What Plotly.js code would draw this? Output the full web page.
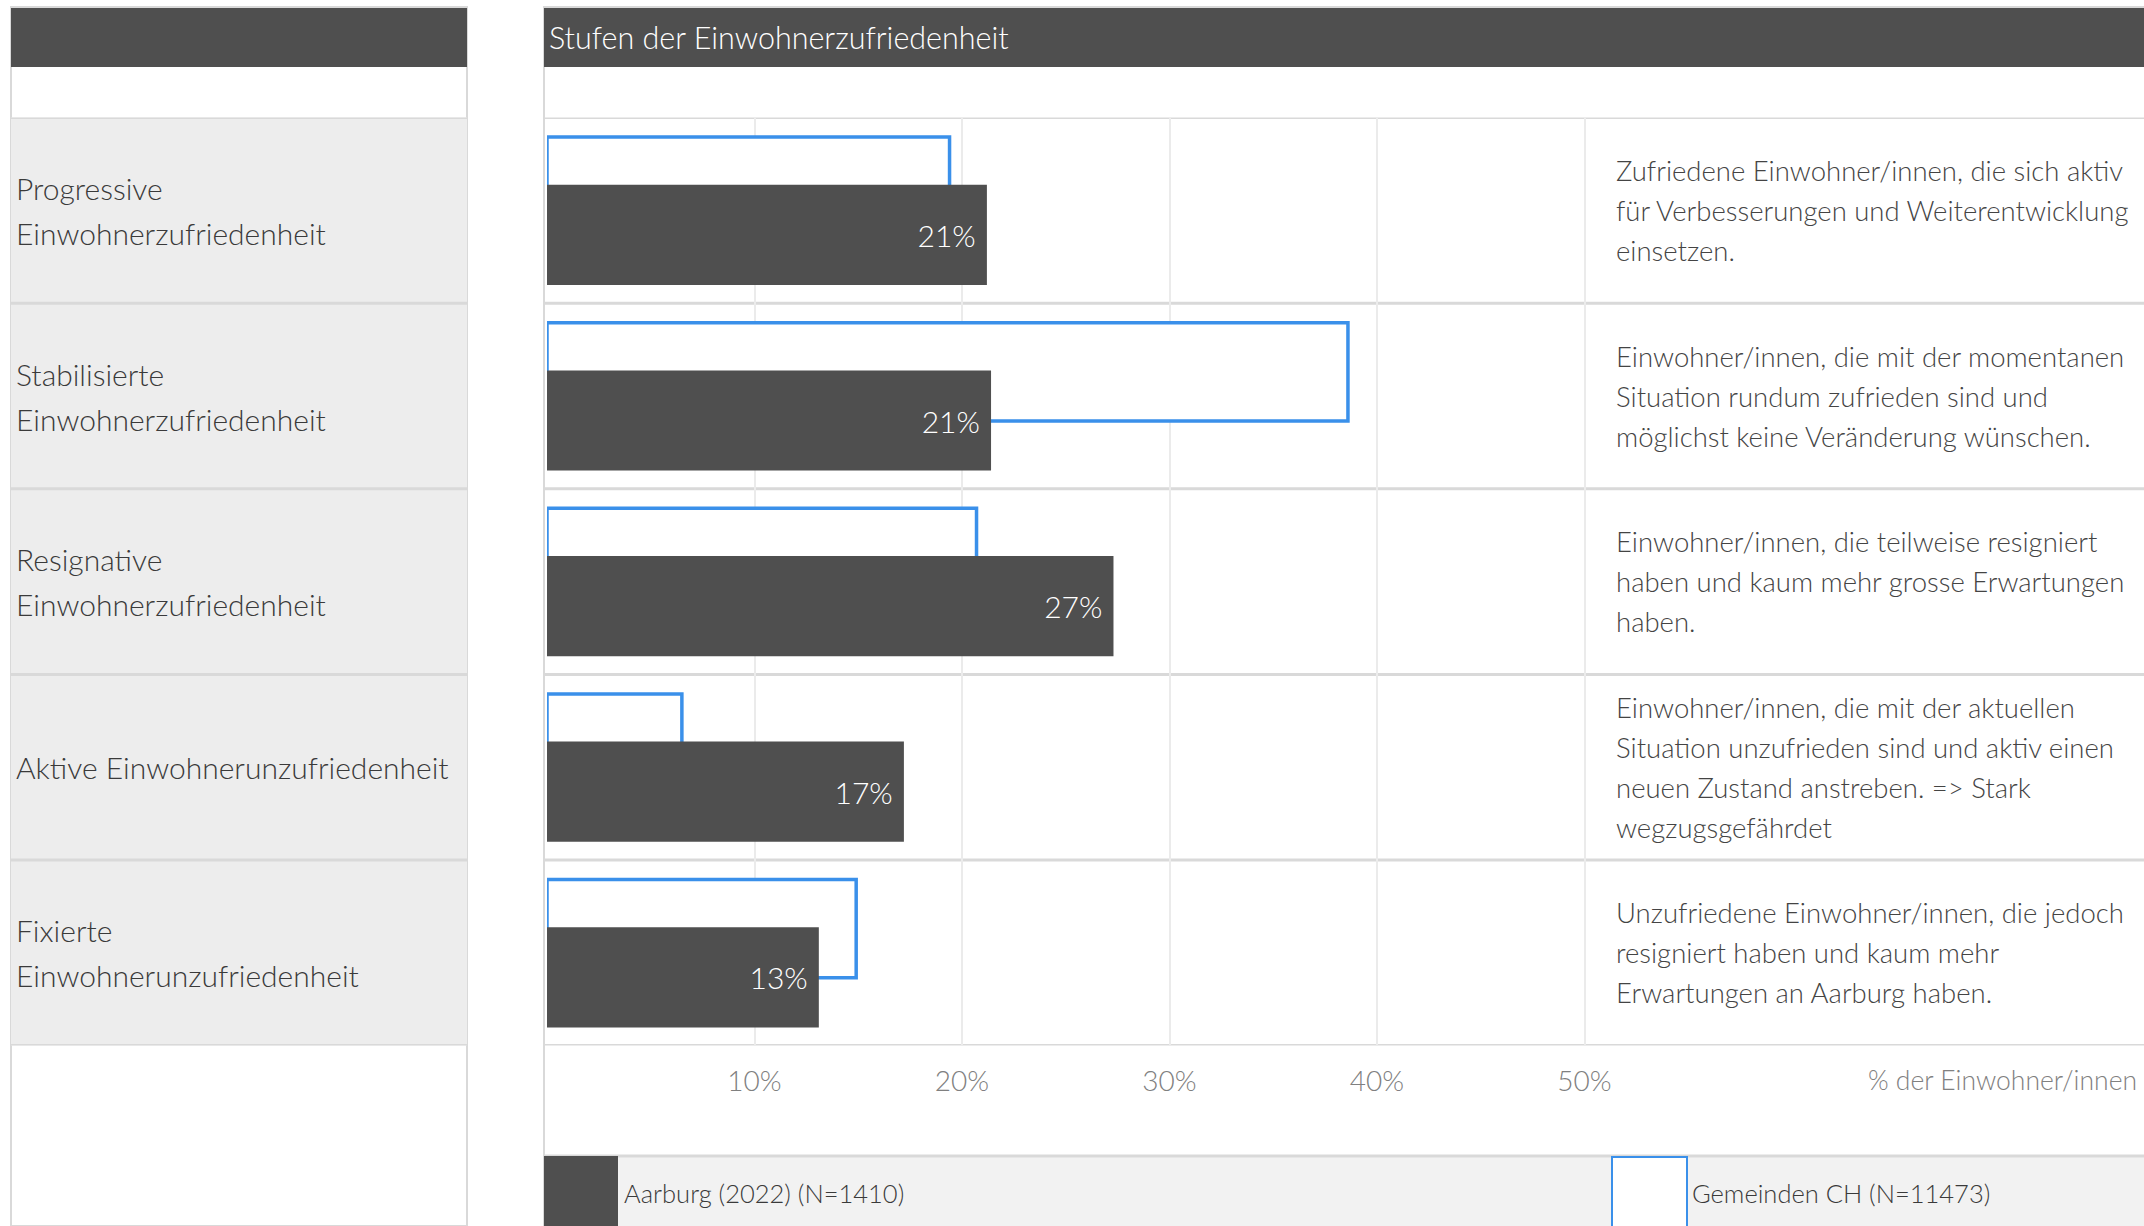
<!DOCTYPE html>
<html>
<head>
<meta charset="utf-8">
<script src="https://cdn.plot.ly/plotly-3.0.1.min.js"></script>
<style>
  html, body { margin: 0; padding: 0; background: #ffffff; }
  #chart { width: 2144px; height: 1226px; }
</style>
</head>
<body>
<div id="chart"></div>
<script>
// ---------------- data ----------------
const categories = [
  "Progressive Einwohnerzufriedenheit",
  "Stabilisierte Einwohnerzufriedenheit",
  "Resignative Einwohnerzufriedenheit",
  "Aktive Einwohnerunzufriedenheit",
  "Fixierte Einwohnerunzufriedenheit"
];
const categoryLabels = [
  "Progressive<br>Einwohnerzufriedenheit",
  "Stabilisierte<br>Einwohnerzufriedenheit",
  "Resignative<br>Einwohnerzufriedenheit",
  "Aktive Einwohnerunzufriedenheit",
  "Fixierte<br>Einwohnerunzufriedenheit"
];
const aarburgValues = [21.2, 21.4, 27.3, 17.2, 13.1];
const gemeindenValues = [19.4, 38.6, 20.7, 6.5, 14.9];
const descriptions = [
  "Zufriedene Einwohner/innen, die sich aktiv<br>für Verbesserungen und Weiterentwicklung<br>einsetzen.",
  "Einwohner/innen, die mit der momentanen<br>Situation rundum zufrieden sind und<br>möglichst keine Veränderung wünschen.",
  "Einwohner/innen, die teilweise resigniert<br>haben und kaum mehr grosse Erwartungen<br>haben.",
  "Einwohner/innen, die mit der aktuellen<br>Situation unzufrieden sind und aktiv einen<br>neuen Zustand anstreben. => Stark<br>wegzugsgefährdet",
  "Unzufriedene Einwohner/innen, die jedoch<br>resigniert haben und kaum mehr<br>Erwartungen an Aarburg haben."
];
const xTickValues = [10, 20, 30, 40, 50];
const xTickLabels = ["10%", "20%", "30%", "40%", "50%"];
const seriesNames = ["Aarburg (2022) (N=1410)", "Gemeinden CH (N=11473)"];
const panelTitle = "Stufen der Einwohnerzufriedenheit";
const axisLabel = "% der Einwohner/innen";

// ---------------- layout helpers ----------------
const W = 2144, H = 1226;
const px = x => x / W;
const py = y => 1 - y / H;

const FONT = "Lato, 'Noto Sans', sans-serif";
const DARK = "#4f4f4f";
const BLUE = "#3a90ea";
const LINE = "#d9d9d9";

const plotLeft = 547, plotTop = 117.6, plotBottom = 1045.6;
const pxPerPct = 20.75;
const xMax = (W - plotLeft) / pxPerPct;

const traces = [
  {
    type: "bar",
    orientation: "h",
    name: seriesNames[1],
    y: categories,
    x: gemeindenValues,
    width: 0.53,
    offset: -0.395,
    marker: { color: "#ffffff", line: { color: BLUE, width: 3.5 } },
    hoverinfo: "skip"
  },
  {
    type: "bar",
    orientation: "h",
    name: seriesNames[0],
    y: categories,
    x: aarburgValues,
    width: 0.54,
    offset: -0.138,
    marker: { color: DARK, line: { width: 0 } },
    text: aarburgValues.map(v => Math.round(v) + "%\u00a0"),
    textposition: "inside",
    insidetextanchor: "end",
    textangle: 0,
    constraintext: "none",
    textfont: { family: FONT, size: 30, color: "#ffffff", weight: 300 },
    hoverinfo: "skip"
  }
];

const shapes = [];
const annotations = [];

// left panel
shapes.push({ type: "rect", xref: "paper", yref: "paper", x0: px(11), x1: px(467), y0: py(1226), y1: py(7), fillcolor: "#ffffff", line: { color: LINE, width: 2 }, layer: "below" });
shapes.push({ type: "rect", xref: "paper", yref: "paper", x0: px(11), x1: px(467), y0: py(67), y1: py(8), fillcolor: DARK, line: { width: 0 }, layer: "below" });
shapes.push({ type: "rect", xref: "paper", yref: "paper", x0: px(11), x1: px(467), y0: py(plotBottom), y1: py(plotTop), fillcolor: "#ededed", line: { width: 0 }, layer: "below" });

// right panel
shapes.push({ type: "rect", xref: "paper", yref: "paper", x0: px(544), x1: px(2146), y0: py(1228), y1: py(7), fillcolor: "rgba(0,0,0,0)", line: { color: LINE, width: 2 }, layer: "below" });
shapes.push({ type: "rect", xref: "paper", yref: "paper", x0: px(544), x1: px(2146), y0: py(67), y1: py(8), fillcolor: DARK, line: { width: 0 }, layer: "below" });
shapes.push({ type: "rect", xref: "paper", yref: "paper", x0: px(544), x1: px(2146), y0: py(1228), y1: py(1156), fillcolor: "#f2f2f2", line: { width: 0 }, layer: "below" });
shapes.push({ type: "line", xref: "paper", yref: "paper", x0: px(544), x1: px(2146), y0: py(1156), y1: py(1156), line: { color: LINE, width: 3 }, layer: "below" });

// row separators (both panels)
for (let i = 0; i <= categories.length; i++) {
  shapes.push({ type: "line", xref: "paper", yref: "y", x0: px(544), x1: 1, y0: i - 0.5, y1: i - 0.5, line: { color: LINE, width: 3 }, layer: "below" });
  shapes.push({ type: "line", xref: "paper", yref: "y", x0: px(11), x1: px(467), y0: i - 0.5, y1: i - 0.5, line: { color: LINE, width: 3 }, layer: "below" });
}

// legend swatches
shapes.push({ type: "rect", xref: "paper", yref: "paper", x0: px(544), x1: px(618), y0: py(1228), y1: py(1156), fillcolor: DARK, line: { width: 0 }, layer: "above" });
shapes.push({ type: "rect", xref: "paper", yref: "paper", x0: px(1612), x1: px(1687), y0: py(1230), y1: py(1157), fillcolor: "#ffffff", line: { color: BLUE, width: 2 }, layer: "above" });

// multi-line helper with custom line height
function addLines(text, opts, lineHeight) {
  const lines = text.split("<br>");
  const n = lines.length;
  lines.forEach((ln, j) => {
    annotations.push(Object.assign({}, opts, {
      text: ln,
      yshift: -(j - (n - 1) / 2) * lineHeight,
      showarrow: false,
      xanchor: "left",
      yanchor: "middle",
      align: "left"
    }));
  });
}

categoryLabels.forEach((lab, i) => {
  addLines(lab, { xref: "paper", yref: "y", x: px(14), y: i, font: { family: FONT, size: 30, color: "#3a3a3a", weight: 300 } }, 45);
});
descriptions.forEach((d, i) => {
  addLines(d, { xref: "paper", yref: "y", x: px(1614), y: i, font: { family: FONT, size: 27.5, color: "#444444", weight: 300 } }, 40);
});

// title
annotations.push({ xref: "paper", yref: "paper", x: px(547), y: py(37), text: panelTitle, showarrow: false, xanchor: "left", yanchor: "middle", font: { family: FONT, size: 30.5, color: "#ffffff", weight: 300 } });
// axis label
annotations.push({ xref: "paper", yref: "paper", x: px(2139), y: py(1080), text: axisLabel, showarrow: false, xanchor: "right", yanchor: "middle", font: { family: FONT, size: 26.5, color: "#808080", weight: 300 } });
// legend texts
annotations.push({ xref: "paper", yref: "paper", x: px(622), y: py(1193), text: seriesNames[0], showarrow: false, xanchor: "left", yanchor: "middle", font: { family: FONT, size: 25.5, color: "#3a3a3a", weight: 300 } });
annotations.push({ xref: "paper", yref: "paper", x: px(1690), y: py(1193), text: seriesNames[1], showarrow: false, xanchor: "left", yanchor: "middle", font: { family: FONT, size: 25.5, color: "#3a3a3a", weight: 300 } });

const layout = {
  width: W,
  height: H,
  margin: { l: 0, r: 0, t: 0, b: 0, pad: 0 },
  paper_bgcolor: "#ffffff",
  plot_bgcolor: "rgba(0,0,0,0)",
  showlegend: false,
  barmode: "overlay",
  font: { family: FONT, size: 28, color: "#444444" },
  xaxis: {
    domain: [px(plotLeft), 1],
    range: [0, xMax],
    tickvals: xTickValues,
    ticktext: xTickLabels,
    showgrid: true,
    gridcolor: "#ebebeb",
    gridwidth: 2,
    zeroline: false,
    showline: false,
    ticks: "",
    ticklabelstandoff: 16,
    tickfont: { family: FONT, size: 28, color: "#808080", weight: 300 },
    fixedrange: true
  },
  yaxis: {
    domain: [py(plotBottom), py(plotTop)],
    type: "category",
    categoryorder: "array",
    categoryarray: categories,
    range: [categories.length - 0.5, -0.5],
    showgrid: false,
    zeroline: false,
    showline: false,
    showticklabels: false,
    ticks: "",
    fixedrange: true
  },
  shapes: shapes,
  annotations: annotations
};

Plotly.newPlot("chart", traces, layout, { displayModeBar: false, staticPlot: true });
</script>
</body>
</html>
